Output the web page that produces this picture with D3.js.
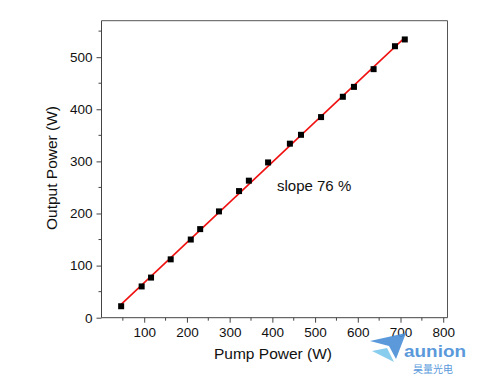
<!DOCTYPE html>
<html>
<head>
<meta charset="utf-8">
<script src="https://cdn.jsdelivr.net/npm/d3@7"></script>
<style>
  html, body { margin: 0; padding: 0; background: #fff; }
  svg { display: block; font-family: "Liberation Sans", Arial, sans-serif; }
  .axis path, .axis line { stroke: #444; }
  .axis text { fill: #111; font-size: 13.5px; }
</style>
</head>
<body>
<div id="chart"></div>
<script>
// pump power (W) vs output power (W)
const pump = [46, 94, 116, 162, 209, 231, 275, 322, 345, 390, 441, 467, 514, 565, 591, 637, 687, 710];
const output = [22, 60, 77, 112, 150, 170, 204, 243, 263, 298, 334, 351, 385, 424, 443, 477, 521, 534];
const xMajor = [100, 200, 300, 400, 500, 600, 700, 800];
const xMinor = [50, 150, 250, 350, 450, 550, 650, 750];
const yMajor = [0, 100, 200, 300, 400, 500];
const yMinor = [50, 150, 250, 350, 450, 550];
const slopeLabel = "slope 76 %";

const W = 479, H = 377;
const M = { top: 20.7, right: 31.5, bottom: 59.3, left: 101.5 };

const svg = d3.select("#chart").append("svg").attr("width", W).attr("height", H);

const x = d3.scaleLinear().domain([0, 810]).range([M.left, W - M.right]);
const y = d3.scaleLinear().domain([0, 570]).range([H - M.bottom, M.top]);

// frame (top + right)
svg.append("path")
  .attr("d", `M${x(0)},${y(570)}H${x(810)}V${y(0)}`)
  .attr("fill", "none").attr("stroke", "#555").attr("stroke-width", 1);

// axes
const gx = svg.append("g").attr("class", "axis").attr("transform", `translate(0,${y(0)})`);
gx.call(d3.axisBottom(x).tickValues(xMajor).tickSize(5).tickSizeOuter(0).tickPadding(5));
gx.append("g").selectAll("line").data(xMinor).join("line")
  .attr("x1", d => x(d)).attr("x2", d => x(d)).attr("y1", 0).attr("y2", 3).attr("stroke", "#444");
gx.select(".domain").attr("d", `M${x(0)},0H${x(810)}`);

const gy = svg.append("g").attr("class", "axis").attr("transform", `translate(${x(0)},0)`);
gy.call(d3.axisLeft(y).tickValues(yMajor).tickSize(5).tickSizeOuter(0).tickPadding(4));
gy.append("g").selectAll("line").data(yMinor).join("line")
  .attr("y1", d => y(d)).attr("y2", d => y(d)).attr("x1", 0).attr("x2", -3).attr("stroke", "#444");
gy.select(".domain").attr("d", `M0,${y(0)}V${y(570)}`);

// linear fit
const mx = d3.mean(pump), my = d3.mean(output);
const b = d3.sum(pump, (p, i) => (p - mx) * (output[i] - my)) / d3.sum(pump, p => (p - mx) * (p - mx));
const a = my - b * mx;
const fitX = d3.extent(pump);
svg.append("path")
  .datum(fitX)
  .attr("d", d3.line().x(d => x(d)).y(d => y(a + b * d)))
  .attr("stroke", "#f01010").attr("stroke-width", 1.6).attr("fill", "none");

// markers
const s = 6;
svg.append("g").selectAll("rect").data(pump).join("rect")
  .attr("x", (p) => x(p) - s / 2).attr("y", (p, i) => y(output[i]) - s / 2)
  .attr("width", s).attr("height", s).attr("fill", "#000");

// labels
svg.append("text").attr("x", 277).attr("y", 190.5).attr("font-size", 15).attr("fill", "#111").text(slopeLabel);
svg.append("text").attr("x", 273).attr("y", 359).attr("text-anchor", "middle")
  .attr("font-size", 15.5).attr("fill", "#111").text("Pump Power (W)");
svg.append("text").attr("transform", "translate(57,168) rotate(-90)").attr("text-anchor", "middle")
  .attr("font-size", 15.5).attr("fill", "#111").text("Output Power (W)");

// watermark logo
const logo = svg.append("g").attr("opacity", 0.9);
logo.append("path").attr("d", "M370,341 L406,333 L396,359 L389,346 Z").attr("fill", "#4a8fd8");
logo.append("path").attr("d", "M372,351 L387,348 L394,362 Z").attr("fill", "#7cc8ec");
logo.append("text").attr("x", 404).attr("y", 357).attr("font-size", 17).attr("font-weight", "bold")
  .attr("fill", "#4a8fd8").attr("textLength", 62).attr("lengthAdjust", "spacingAndGlyphs").text("aunion");
logo.append("text").attr("x", 433).attr("y", 373).attr("text-anchor", "middle").attr("font-size", 10)
  .attr("fill", "#4a8fd8").attr("font-family", "'Noto Sans CJK SC', sans-serif").text("昊量光电");
</script>
</body>
</html>
